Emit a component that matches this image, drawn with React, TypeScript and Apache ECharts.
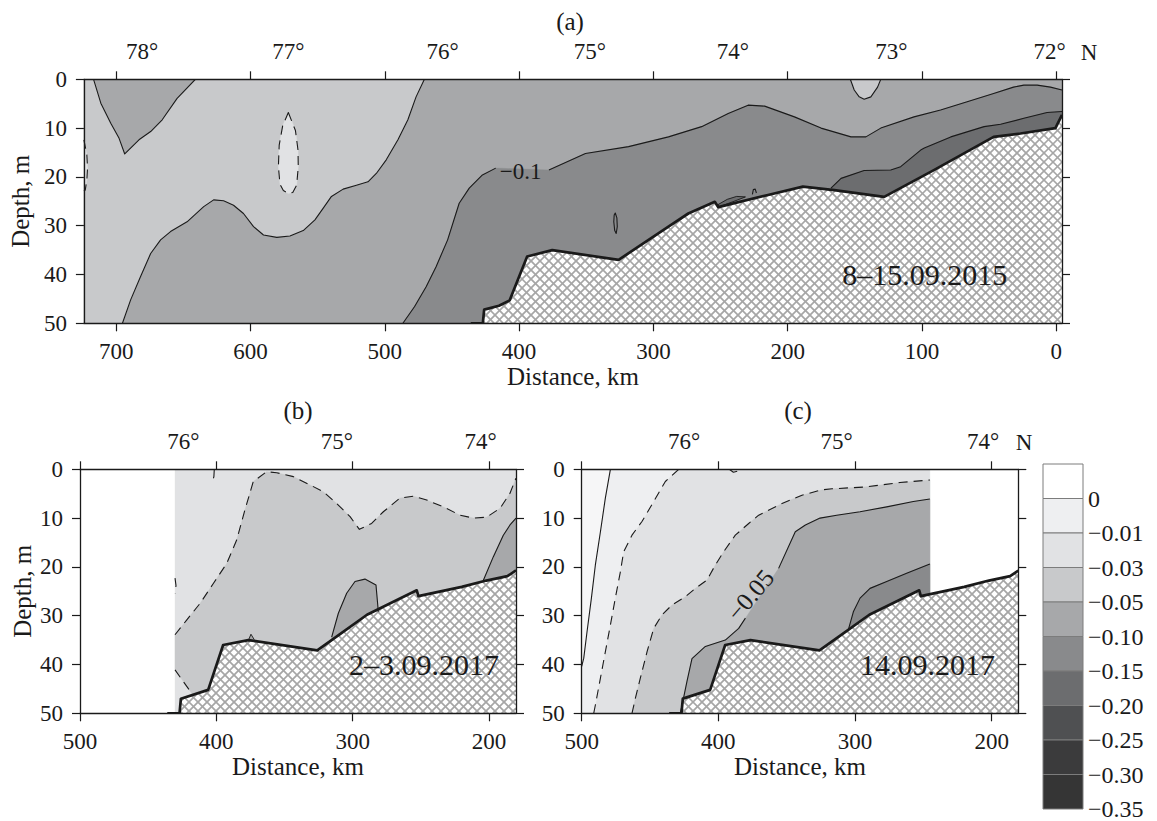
import React, { useEffect, useRef } from 'react';
import * as echarts from 'echarts';

type Pt = [number, number];

const FONT = '"Liberation Serif", "Times New Roman", serif';
const INK = '#1a1a1a';

// ---------- colour scale (colour bar, top to bottom) ----------
const LEVEL_COLORS = ['#ffffff', '#eeeff1', '#e1e2e4', '#c8c9cb', '#a7a8aa', '#898a8c', '#6c6d6f', '#4f5052', '#3b3b3c', '#353535'];
const LEVEL_LABELS = ['0', '−0.01', '−0.03', '−0.05', '−0.10', '−0.15', '−0.20', '−0.25', '−0.30', '−0.35'];
const LEVEL_BOUNDS = [1, 2, 3, 4, 5, 6, 7, 8, 9, 10];

// ---------- axes ----------
const DIST_TICKS_A = [0, 100, 200, 300, 400, 500, 600, 700];
const DIST_TICKS_BC = [200, 300, 400, 500];
const LAT_A: [number, string][] = [[680.7, '78°'], [571.8, '77°'], [457, '76°'], [347.4, '75°'], [240.8, '74°'], [122.8, '73°'], [5.0, '72°']];
const LAT_B: [number, string][] = [[424.2, '76°'], [311.7, '75°'], [206.1, '74°']];
const LAT_C: [number, string][] = [[425.1, '76°'], [313.4, '75°'], [206.2, '74°']];
const A_RANGE: Pt = [-4.2, 724];
const B_RANGE: Pt = [180.2, 500];
const C_RANGE: Pt = [180.5, 500];

// ---------- panel (a) 8–15.09.2015 : [distance km, depth m] ----------
const A_BATHY: Pt[] = [[436, 50], [427, 50], [426, 47.2], [415, 46.4], [407, 45.3], [394, 36.3], [375.3, 35], [325.9, 37], [288.8, 30.2], [274, 27.5], [254.3, 25.1], [251.7, 26.2], [214.7, 23.7], [188.7, 22.0], [165.3, 22.7], [128.2, 24.1], [91.2, 18.6], [46.7, 11.8], [26.7, 11.1], [0.7, 10], [-4.2, 7.3]];
const A_C05_TRI: Pt[] = [[716.8, 0], [711.4, 4.9], [704, 9.0], [697.8, 12.1], [693.6, 15.3], [683, 12.4], [674.3, 10.7], [665.7, 8.3], [654.6, 3.9], [641, 0]];
const A_C05_MAIN: Pt[] = [[470.5, 0], [476.7, 3.6], [482.8, 8.3], [490.2, 12.4], [498.9, 16.5], [506.3, 19.3], [512.5, 21.0], [521.1, 21.7], [531, 22.5], [539.7, 24.0], [545.8, 26.4], [552, 28.8], [560.7, 31.0], [570.6, 32.1], [580.4, 32.4], [590.3, 31.9], [597.7, 30.2], [605.2, 27.5], [612.6, 25.8], [620, 24.9], [627.4, 24.7], [634.8, 26.1], [647.2, 29.2], [659.5, 31.2], [666.9, 32.9], [674.3, 35.7], [681.8, 40.4], [689.2, 45.2], [695.3, 50]];
const A_C03_LENS: Pt[] = [[571.8, 6.8], [566.5, 10.5], [564.6, 14.5], [564.4, 17.9], [565.6, 21.7], [568.5, 23.2], [571.8, 23.4], [575.5, 22.8], [578, 21.5], [579.2, 17.9], [578.6, 13.5], [576, 9.5]];
const A_C03_EDGE: Pt[] = [[724, 12.4], [721.8, 15.5], [721.3, 18.2], [721.8, 20.6], [723, 22.7], [724, 22.9]];
const A_C10_W: Pt[] = [[486.5, 50], [477.9, 46.6], [469.2, 42.5], [461.8, 38.4], [453.2, 32.9], [444.6, 25.4], [437.1, 22.3], [427.3, 19.6], [417.4, 18.2]];
const A_C10_E: Pt[] = [[377.8, 18.6], [350.6, 15.2], [318.5, 13.8], [288.8, 11.8], [264.1, 9.7], [244.3, 7.0], [229.5, 5.3], [217.2, 5.5], [195, 7.7], [175.2, 10.0], [152.9, 11.8], [141.8, 11.8], [130.7, 10.0], [106, 7.7], [86.2, 6.3], [66.4, 4.6], [46.7, 2.9], [31.9, 1.6], [24.2, 1.2], [14.3, 1.2], [4.4, 1.6], [-4.2, 2.2]];
const A_C15: Pt[] = [[167.8, 22.3], [160.3, 20.3], [143.1, 18.7], [123.3, 18.6], [115.9, 17.9], [101, 14.5], [98.3, 14.1], [78.6, 11.8], [53.8, 9.7], [41.5, 9.2], [24.2, 8.0], [6.9, 6.8], [-4.2, 6.6]];
const A_C05_BUMP: Pt[] = [[153.4, 0], [150.5, 2.2], [146.8, 3.6], [143.1, 4.1], [138.1, 3.6], [133.1, 1.6], [130.7, 0]];
const A_C15_SLIVER: Pt[] = [[252, 25.7], [245, 24.6], [238, 24.0], [231.5, 24.1], [240, 25.0], [251.6, 26.2]];
const A_C15_DOT: Pt[] = [[226.3, 23.6], [225.6, 22.6], [224.2, 22.5], [223.3, 23.3]];
const A_C10_DOT: Pt[] = [[328.4, 27.4], [327.2, 28.4], [326.9, 30.2], [327.7, 31.6], [328.8, 31.0], [329.5, 29.2], [329.2, 27.8]];
const A_LABEL_POS: Pt = [398.9, 18.9];
const A_DATE_POS: Pt = [97.9, 40.1];

// ---------- panels (b) and (c), 2017 ----------
const BATHY_2017: Pt[] = [[436, 50], [427, 50], [426, 47], [406, 45.2], [395, 36], [376.5, 35], [326, 37.1], [308, 33.5], [289.5, 29.8], [253, 24.8], [251.8, 26], [220, 24.1], [202, 22.8], [186.5, 21.9], [180.2, 20.7]];

// (b) 2–3.09.2017
const B_DATA_W = 430.3;
const B_C03: Pt[] = [[430.3, 33.9], [421.8, 30.9], [412.0, 27.5], [402.2, 23.4], [392.4, 19.3], [385.1, 14.5], [379.0, 8.3], [372.9, 2.5], [363.1, 0.5], [355.7, 0.7], [343.5, 1.5], [331.3, 3.2], [321.5, 4.6], [311.7, 7.0], [301.9, 9.7], [295.1, 12.3], [286.1, 11.1], [277.5, 8.7], [265.3, 5.9], [255.5, 5.5], [245.7, 6.3], [233.5, 7.7], [221.3, 9.4], [211.5, 10.0], [201.7, 9.8], [191.9, 8.0], [184.6, 4.9], [180.2, 1.8]];
const B_C03_LOW: Pt[] = [[430.3, 41.1], [424.2, 43.5], [418.1, 45.9]];
const B_C03_BIT1: Pt[] = [[430.3, 22.3], [429.6, 23.8], [430.1, 25.4]];
const B_C03_BIT2: Pt[] = [[401.5, 0], [401.8, 1.5], [402.6, 2.3], [403.4, 2.2]];
const B_C05_BUMP1: Pt[] = [[315.4, 34.4], [310.5, 29.5], [304.4, 25.4], [298.3, 23.0], [291.0, 22.5], [282.9, 23.7], [281.7, 27.5], [281.2, 29.2]];
const B_C05_BUMP2: Pt[] = [[204.2, 22.8], [196.8, 17.9], [189.5, 13.5], [184.6, 11.4], [180.2, 10.0]];
const B_C05_SPIKE: Pt[] = [[376.4, 35.0], [374.6, 33.8], [372.2, 34.9]];
const B_DATE_POS: Pt = [247.7, 40.1];

// (c) 14.09.2017
const C_DATA_E = 245.2;
const C_C00: Pt[] = [[479.0, 0], [482.7, 5.9], [486.3, 12.8], [490.0, 19.6], [492.9, 26.4], [496.1, 33.3], [498.5, 38.7], [500, 40.4]];
const C_C01: Pt[] = [[429.0, 0], [438.8, 2.5], [447.3, 6.6], [455.9, 10.7], [463.2, 13.5], [469.3, 16.9], [471.7, 21.0], [475.4, 26.4], [479.0, 31.9], [482.7, 37.4], [486.3, 42.8], [490.0, 48.3], [491.2, 50]];
const C_C01_BIT: Pt[] = [[392, 0], [389, 0.6], [385, 0.3]];
const C_C03: Pt[] = [[463.2, 50], [460.7, 46.9], [457.1, 42.8], [452.2, 37.4], [447.3, 32.6], [441.2, 29.8], [433.9, 27.8], [424.1, 26.1], [416.8, 24.4], [408.3, 22.7], [402.2, 19.6], [396.1, 16.9], [387.6, 13.5], [377.8, 11.1], [370.5, 9.4], [353.4, 7.0], [338.8, 5.3], [324.1, 4.2], [316.8, 4.0], [291.5, 3.6], [267.1, 2.7], [245.2, 2.2]];
const C_C05_W: Pt[] = [[427.8, 50], [423.0, 43.5], [419.3, 38.8], [409.5, 36.3], [394.9, 35.0], [385.1, 32.6], [380.2, 30.5]];
const C_C05_E: Pt[] = [[355.9, 20.3], [343.7, 12.8], [336.3, 11.4], [325.6, 10.0], [313.4, 9.4], [296.3, 8.7], [276.8, 7.7], [257.3, 6.6], [245.2, 6.1]];
const C_C10: Pt[] = [[304.9, 32.9], [301.2, 29.2], [296.3, 26.4], [289.0, 24.4], [276.8, 23.0], [262.2, 21.3], [245.2, 19.4]];
const C_LABEL_POS: Pt = [376.6, 25.8];
const C_DATE_POS: Pt = [247, 40.1];

// ---------- shape helpers ----------
type Shape = {
  kind: 'fill' | 'line' | 'hatch' | 'text';
  pts: Pt[];
  color?: string;
  dash?: boolean;
  width?: number;
  closed?: boolean;
  text?: string;
  size?: number;
  rot?: number;
};
const fill = (pts: Pt[], color: string): Shape => ({ kind: 'fill', pts, color });
const line = (pts: Pt[], dash = false, closed = false, width = 1.1): Shape => ({ kind: 'line', pts, dash, closed, width });
const label = (p: Pt, text: string, size: number, rot = 0): Shape => ({ kind: 'text', pts: [p], text, size, rot });

function clipEast(pts: Pt[], east: number): Pt[] {
  const out: Pt[] = [];
  for (let i = 0; i < pts.length; i++) {
    const p = pts[i];
    if (p[0] >= east) { out.push(p); continue; }
    const q = pts[i - 1];
    if (q && q[0] > east) {
      const t = (q[0] - east) / (q[0] - p[0]);
      out.push([east, q[1] + t * (p[1] - q[1])]);
    }
    break;
  }
  return out;
}
const seabed = (bathy: Pt[], east: number) => clipEast(bathy, east);
const seabedPoly = (bathy: Pt[], east: number): Pt[] => [...clipEast(bathy, east), [east, 50]];

function hatchSegments(poly: number[][], step: number) {
  const out: number[][][] = [];
  for (const dir of [1, -1]) {
    const vals = poly.map((p) => p[0] + dir * p[1]);
    const cmin = Math.min(...vals);
    const cmax = Math.max(...vals);
    for (let c = Math.ceil(cmin / step) * step; c <= cmax; c += step) {
      const xs: number[][] = [];
      for (let i = 0; i < poly.length; i++) {
        const p1 = poly[i];
        const p2 = poly[(i + 1) % poly.length];
        const f1 = p1[0] + dir * p1[1] - c;
        const f2 = p2[0] + dir * p2[1] - c;
        if ((f1 < 0) !== (f2 < 0)) {
          const t = f1 / (f1 - f2);
          xs.push([p1[0] + t * (p2[0] - p1[0]), p1[1] + t * (p2[1] - p1[1])]);
        }
      }
      xs.sort((a, b) => a[0] - b[0]);
      for (let k = 0; k + 1 < xs.length; k += 2) out.push([xs[k], xs[k + 1]]);
    }
  }
  return out;
}

// ---------- panel shape lists ----------
const [aE, aW] = A_RANGE;
const SHAPES_A: Shape[] = [
  fill([[aW, 0], [aE, 0], [aE, 50], [aW, 50]], LEVEL_COLORS[4]),
  fill([[aW, 0], ...A_C05_TRI, ...A_C05_MAIN, [aW, 50]], LEVEL_COLORS[3]),
  fill(A_C03_LENS, LEVEL_COLORS[2]),
  fill(A_C03_EDGE, LEVEL_COLORS[2]),
  fill([...A_C10_W, ...A_C10_E, [aE, 50]], LEVEL_COLORS[5]),
  fill([...A_C15, [aE, 50], [A_C15[0][0], 50]], LEVEL_COLORS[6]),
  fill(A_C05_BUMP, LEVEL_COLORS[3]),
  fill(A_C15_SLIVER, LEVEL_COLORS[6]),
  { kind: 'hatch', pts: seabedPoly(A_BATHY, aE) },
  line(A_C05_TRI), line(A_C05_MAIN), line(A_C10_W), line(A_C10_E), line(A_C15), line(A_C05_BUMP),
  line(A_C03_LENS, true, true), line(A_C03_EDGE, true),
  line(A_C10_DOT, false, true), line(A_C15_DOT, false, false), line(A_C15_SLIVER, false, true, 0.9),
  line(seabed(A_BATHY, aE), false, false, 2.7),
  label(A_LABEL_POS, '−0.1', 23),
  label(A_DATE_POS, '8–15.09.2015', 30),
];

const [bE, bW] = B_RANGE;
const SHAPES_B: Shape[] = [
  fill([[B_DATA_W, 0], [bE, 0], [bE, 50], [B_DATA_W, 50]], LEVEL_COLORS[2]),
  fill([...B_C03, [bE, 50], [415, 50], ...[...B_C03_LOW].reverse()], LEVEL_COLORS[3]),
  fill([...B_C05_BUMP1, [B_C05_BUMP1[B_C05_BUMP1.length - 1][0], 50], [B_C05_BUMP1[0][0], 50]], LEVEL_COLORS[4]),
  fill([...B_C05_BUMP2, [bE, 50], [B_C05_BUMP2[0][0], 50]], LEVEL_COLORS[4]),
  fill(B_C05_SPIKE, LEVEL_COLORS[4]),
  { kind: 'hatch', pts: seabedPoly(BATHY_2017, bE) },
  line(B_C03, true), line(B_C03_LOW, true), line(B_C03_BIT1, true), line(B_C03_BIT2, true),
  line(B_C05_BUMP1), line(B_C05_BUMP2), line(B_C05_SPIKE, false, false, 0.9),
  line(seabed(BATHY_2017, bE), false, false, 2.7),
  label(B_DATE_POS, '2–3.09.2017', 30),
];

const [cE, cW] = C_RANGE;
const SHAPES_C: Shape[] = [
  fill([[cW, 0], [C_DATA_E, 0], [C_DATA_E, 50], [cW, 50]], LEVEL_COLORS[2]),
  fill([[cW, 0], ...C_C01, [cW, 50]], LEVEL_COLORS[1]),
  fill([[cW, 0], ...C_C00], '#f6f6f7'),
  fill([...C_C03, [C_DATA_E, 50]], LEVEL_COLORS[3]),
  fill([...C_C05_W, ...C_C05_E, [C_DATA_E, 50]], LEVEL_COLORS[4]),
  fill([...C_C10, [C_DATA_E, 50], [C_C10[0][0], 50]], LEVEL_COLORS[5]),
  { kind: 'hatch', pts: seabedPoly(BATHY_2017, cE) },
  line(C_C00), line(C_C01, true), line(C_C01_BIT, true), line(C_C03, true),
  line(C_C05_W), line(C_C05_E), line(C_C10),
  line(seabed(BATHY_2017, cE), false, false, 2.7),
  label(C_LABEL_POS, '−0.05', 25, 50),
  label(C_DATE_POS, '14.09.2017', 30),
];

function makeRender(shapes: Shape[]) {
  return (params: any, api: any) => {
    const idx = api.value(2);
    const s = shapes[idx];
    const px = s.pts.map((p) => api.coord([p[0], p[1]]));
    if (s.kind === 'fill') {
      return { type: 'polygon', z2: idx, silent: true, shape: { points: px }, style: { fill: s.color, stroke: s.color, lineWidth: 0.4 } };
    }
    if (s.kind === 'line') {
      const style: any = { fill: 'none', stroke: INK, lineWidth: s.width, lineJoin: 'round' };
      if (s.dash) style.lineDash = [9, 6];
      return { type: s.closed ? 'polygon' : 'polyline', z2: idx, silent: true, shape: { points: px }, style };
    }
    if (s.kind === 'hatch') {
      const segs = hatchSegments(px, 9);
      return {
        type: 'group',
        children: [
          { type: 'polygon', z2: idx, silent: true, shape: { points: px }, style: { fill: '#ffffff' } },
          ...segs.map((sg) => ({
            type: 'line', z2: idx, silent: true,
            shape: { x1: sg[0][0], y1: sg[0][1], x2: sg[1][0], y2: sg[1][1] },
            style: { stroke: '#a6a6a6', lineWidth: 1.7 },
          })),
        ],
      };
    }
    return {
      type: 'text', z2: idx + 100, silent: true,
      x: px[0][0], y: px[0][1], rotation: ((s.rot || 0) * Math.PI) / 180,
      style: { text: s.text, fill: INK, font: `${s.size}px ${FONT}`, align: 'center', verticalAlign: 'middle', textAlign: 'center', textVerticalAlign: 'middle' },
    };
  };
}

const shapeData = (shapes: Shape[]) => shapes.map((s, i) => [s.pts[0][0], s.pts[0][1], i]);

const axisLineStyle = { show: true, onZero: false, lineStyle: { color: INK, width: 1.3 } };
const tickStyle = { color: INK, width: 1.2 };
const labelFont = { fontFamily: FONT, fontSize: 23, color: INK };
const nameFont = { fontFamily: FONT, fontSize: 25, color: INK };

function distAxis(grid: number, range: Pt, ticks: number[]) {
  return {
    type: 'value', gridIndex: grid, position: 'bottom', min: range[0], max: range[1], inverse: true, z: 10,
    axisLine: axisLineStyle,
    axisTick: { show: true, length: 8, customValues: ticks, lineStyle: tickStyle },
    axisLabel: { show: true, customValues: ticks, margin: 17, ...labelFont, formatter: (v: number) => String(Math.round(v)) },
    splitLine: { show: false },
    name: 'Distance, km', nameLocation: 'middle', nameGap: 41, nameTextStyle: nameFont,
  };
}
function latAxis(grid: number, range: Pt, ticks: number[], lats: [number, string][]) {
  return {
    type: 'value', gridIndex: grid, position: 'top', min: range[0], max: range[1], inverse: true, z: 10,
    axisLine: axisLineStyle,
    axisTick: { show: true, length: 8, customValues: ticks, lineStyle: tickStyle },
    axisLabel: {
      show: true, customValues: lats.map((l) => l[0]), margin: 16, ...labelFont,
      formatter: (v: number) => {
        const f = lats.find((l) => Math.abs(l[0] - v) < 0.01);
        return f ? f[1] : '';
      },
    },
    splitLine: { show: false },
  };
}
function depthAxis(grid: number, left: boolean, named: boolean) {
  return {
    type: 'value', gridIndex: grid, position: left ? 'left' : 'right', min: 0, max: 50, interval: 10, inverse: true, z: 10,
    axisLine: axisLineStyle,
    axisTick: { show: true, length: 8, lineStyle: tickStyle },
    axisLabel: { show: left, margin: 17, ...labelFont },
    splitLine: { show: false },
    name: named ? 'Depth, m' : '', nameLocation: 'middle', nameGap: 45, nameRotate: 90, nameTextStyle: nameFont,
  };
}

export default function App() {
  const ref = useRef<HTMLDivElement>(null);
  useEffect(() => {
    if (!ref.current) return;
    const chart = echarts.init(ref.current, undefined, { renderer: 'svg' });
    const option: any = {
      animation: false,
      backgroundColor: '#ffffff',
      grid: [
        { left: 80, top: 79.3, width: 982, height: 244 },
        { left: 80, top: 469.3, width: 436, height: 244 },
        { left: 581.7, top: 469.3, width: 436.6, height: 244 },
        { left: 1043, top: 464, width: 40, height: 349 },
      ],
      xAxis: [
        distAxis(0, A_RANGE, DIST_TICKS_A),
        latAxis(0, A_RANGE, DIST_TICKS_A, LAT_A),
        distAxis(1, B_RANGE, DIST_TICKS_BC),
        latAxis(1, B_RANGE, DIST_TICKS_BC, LAT_B),
        distAxis(2, C_RANGE, DIST_TICKS_BC),
        latAxis(2, C_RANGE, DIST_TICKS_BC, LAT_C),
        { type: 'value', gridIndex: 3, min: 0, max: 1, show: false },
      ],
      yAxis: [
        depthAxis(0, true, true),
        depthAxis(0, false, false),
        depthAxis(1, true, true),
        depthAxis(1, false, false),
        depthAxis(2, true, false),
        depthAxis(2, false, false),
        {
          type: 'value', gridIndex: 3, position: 'right', min: 0, max: 10, inverse: true,
          axisLine: { show: false }, axisTick: { show: false }, splitLine: { show: false },
          axisLabel: {
            show: true, customValues: LEVEL_BOUNDS, margin: 5, ...labelFont, fontSize: 24, padding: [5, 0, 0, 0],
            formatter: (v: number) => LEVEL_LABELS[Math.round(v) - 1] || '',
          },
        },
      ],
      graphic: [
        { type: 'text', x: 570, y: 21, style: { text: '(a)', font: `25px ${FONT}`, fill: INK, align: 'center', verticalAlign: 'middle' } },
        { type: 'text', x: 298, y: 410, style: { text: '(b)', font: `25px ${FONT}`, fill: INK, align: 'center', verticalAlign: 'middle' } },
        { type: 'text', x: 798, y: 410, style: { text: '(c)', font: `25px ${FONT}`, fill: INK, align: 'center', verticalAlign: 'middle' } },
        { type: 'text', x: 1089, y: 52, style: { text: 'N', font: `23px ${FONT}`, fill: INK, align: 'center', verticalAlign: 'middle' } },
        { type: 'text', x: 1024, y: 442, style: { text: 'N', font: `23px ${FONT}`, fill: INK, align: 'center', verticalAlign: 'middle' } },
      ],
      series: [
        { type: 'custom', xAxisIndex: 0, yAxisIndex: 0, clip: true, z: 2, encode: { x: 0, y: 1 }, data: shapeData(SHAPES_A), renderItem: makeRender(SHAPES_A) },
        { type: 'custom', xAxisIndex: 2, yAxisIndex: 2, clip: true, z: 2, encode: { x: 0, y: 1 }, data: shapeData(SHAPES_B), renderItem: makeRender(SHAPES_B) },
        { type: 'custom', xAxisIndex: 4, yAxisIndex: 4, clip: true, z: 2, encode: { x: 0, y: 1 }, data: shapeData(SHAPES_C), renderItem: makeRender(SHAPES_C) },
        {
          type: 'custom', xAxisIndex: 6, yAxisIndex: 6, z: 2, encode: { x: 0, y: 1 },
          data: LEVEL_COLORS.map((c, i) => [0, i, i]),
          renderItem: (params: any, api: any) => {
            const i = api.value(2);
            const p0 = api.coord([0, i]);
            const p1 = api.coord([1, i + 1]);
            return {
              type: 'rect', silent: true,
              shape: { x: p0[0], y: p0[1], width: p1[0] - p0[0], height: p1[1] - p0[1] },
              style: { fill: LEVEL_COLORS[i], stroke: '#7c7c7c', lineWidth: 1 },
            };
          },
        },
      ],
    };
    chart.setOption(option);
    return () => chart.dispose();
  }, []);
  return <div ref={ref} style={{ position: 'fixed', left: 0, top: 0, width: 1157, height: 821, background: '#fff' }} />;
}
